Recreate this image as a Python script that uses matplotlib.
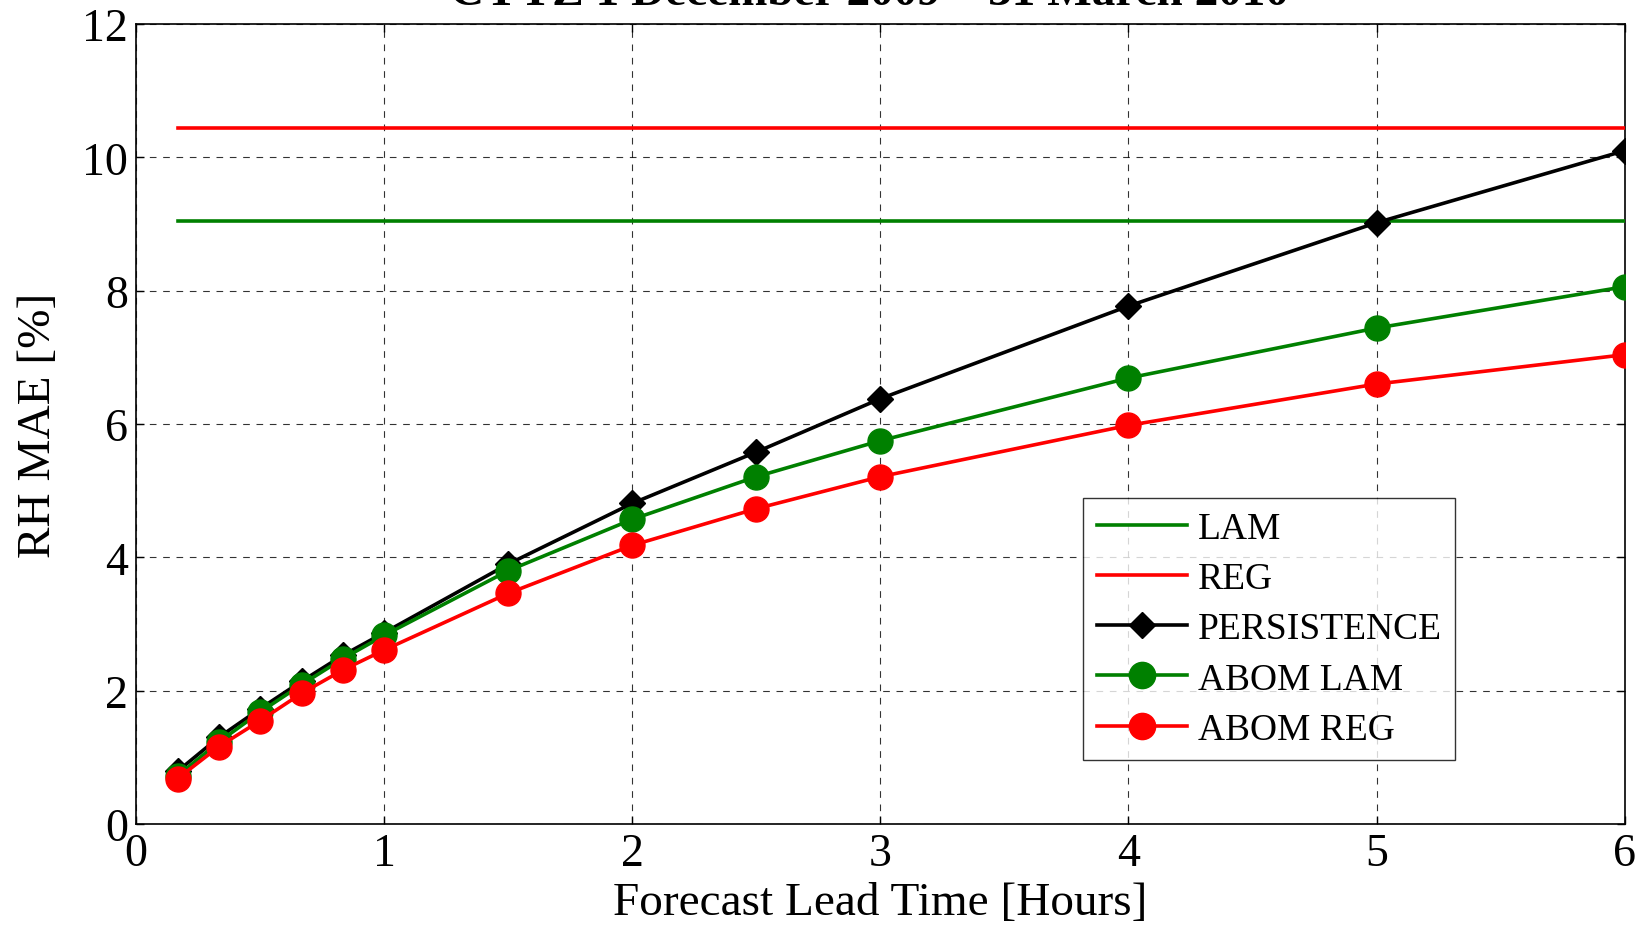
import matplotlib
matplotlib.use("Agg")
import matplotlib.pyplot as plt

lead_time = [1/6, 1/3, 0.5, 2/3, 5/6, 1, 1.5, 2, 2.5, 3, 4, 5, 6]
lam_value = 9.05
reg_value = 10.44
persistence = [0.79, 1.30, 1.73, 2.14, 2.53, 2.87, 3.90, 4.81, 5.58, 6.38, 7.77, 9.02, 10.10]
abom_lam = [0.72, 1.23, 1.68, 2.09, 2.48, 2.83, 3.80, 4.57, 5.21, 5.75, 6.69, 7.44, 8.06]
abom_reg = [0.68, 1.16, 1.55, 1.96, 2.31, 2.61, 3.46, 4.18, 4.73, 5.21, 5.98, 6.60, 7.04]
title = "CYYZ 1 December 2009 \u2013 31 March 2010"

plt.rcParams['font.family'] = ['Liberation Serif', 'DejaVu Serif']
fig = plt.figure(figsize=(16.41, 9.29), dpi=100)
ax = fig.add_axes([0.083, 0.112, 0.907, 0.861])

green = '#008000'
red = '#ff0000'
lw = 2.6
ax.plot(lead_time, [lam_value]*len(lead_time), color=green, lw=lw, label='LAM', zorder=3)
ax.plot(lead_time, [reg_value]*len(lead_time), color=red, lw=lw, label='REG', zorder=3)
ax.plot(lead_time, persistence, color='black', lw=lw, marker='D', markersize=13,
        label='PERSISTENCE', zorder=4)
ax.plot(lead_time, abom_lam, color=green, lw=lw, marker='o', markersize=18,
        label='ABOM LAM', zorder=5)
ax.plot(lead_time, abom_reg, color=red, lw=lw, marker='o', markersize=18,
        label='ABOM REG', zorder=6)

ax.set_xlim(0, 6)
ax.set_ylim(0, 12)
ax.set_xticks(range(0, 7))
ax.set_yticks(range(0, 13, 2))
ax.tick_params(direction='in', labelsize=33, length=6, width=1, top=True, right=True, pad=6)
ax.grid(True, color='black', linestyle=(0, (6, 6)), linewidth=0.8, alpha=0.8)
for s in ax.spines.values():
    s.set_linewidth(1.2)
ax.set_xlabel('Forecast Lead Time [Hours]', fontsize=34, labelpad=5)
ax.set_ylabel('RH MAE [%]', fontsize=34, labelpad=16)
fig.text(0.53, 0.9945, title, fontsize=34, ha='center', va='baseline', fontweight='bold')

leg = ax.legend(loc='lower right', bbox_to_anchor=(0.886, 0.08), borderaxespad=0,
                fontsize=27, frameon=True, fancybox=False, edgecolor='black',
                handlelength=2.4, handletextpad=0.3, labelspacing=0.42, borderpad=0.35,
                markerscale=1.05)
leg.get_frame().set_linewidth(1.0)

fig.savefig('out.png', dpi=100)
